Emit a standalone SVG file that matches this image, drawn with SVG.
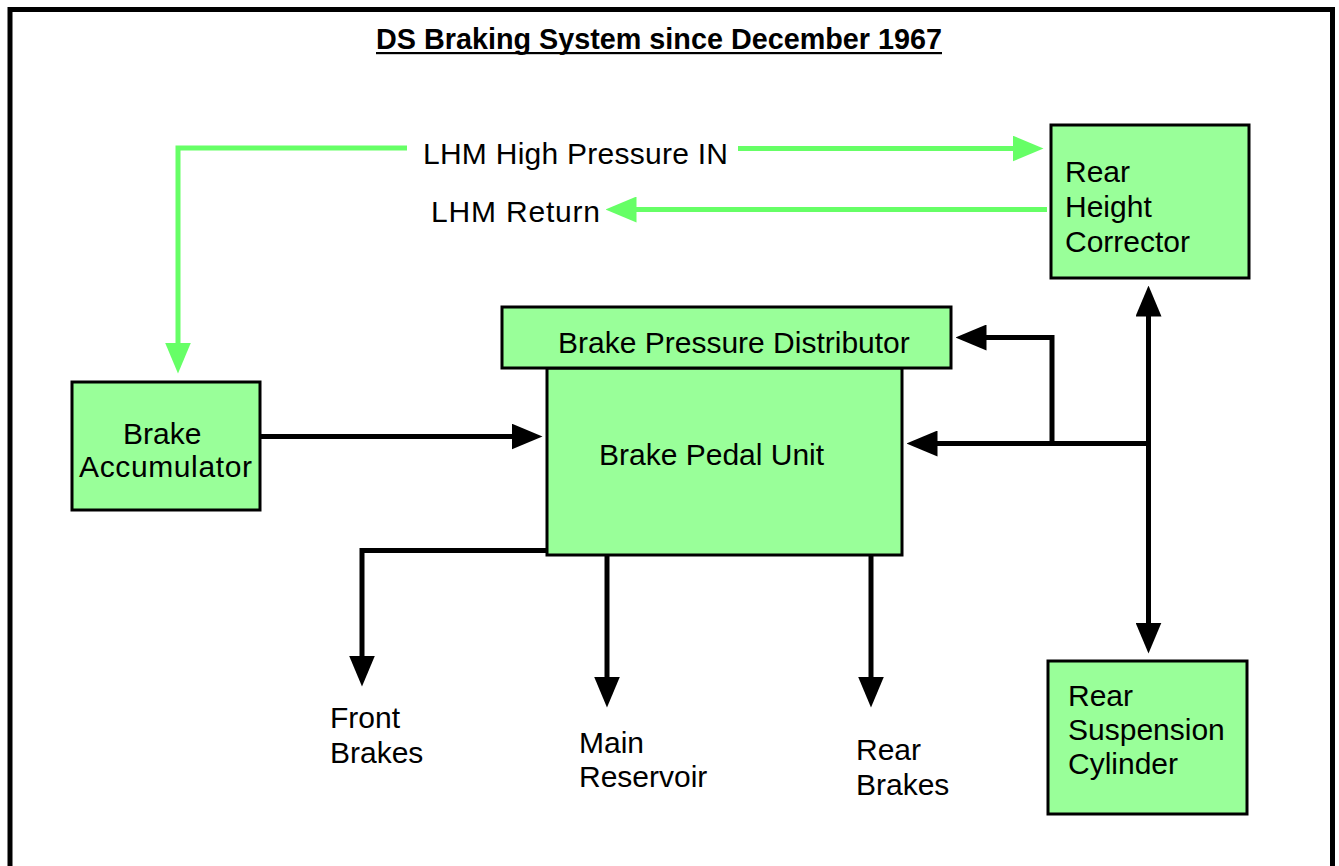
<svg xmlns="http://www.w3.org/2000/svg" width="1339" height="866" viewBox="0 0 1339 866">
  <style>
    .box { fill: #99FF99; stroke: #000; stroke-width: 3; }
    .lbl { font-family: "Liberation Sans", Arial, sans-serif; font-size: 30px; fill: #000; }
    .title { font-family: "Liberation Sans", Arial, sans-serif; font-size: 30px; font-weight: bold; fill: #000; }
    .blk { fill: none; stroke: #000; stroke-width: 5; stroke-linejoin: miter; }
    .grn { fill: none; stroke: #66FF66; stroke-width: 5; stroke-linejoin: miter; }
  </style>
  <defs>
    <marker id="ab" markerUnits="userSpaceOnUse" markerWidth="31" markerHeight="26" refX="0.5" refY="13" orient="auto-start-reverse" viewBox="0 0 31 26">
      <path d="M0,0 L31,13 L0,26 z" fill="#000"/>
    </marker>
    <marker id="ag" markerUnits="userSpaceOnUse" markerWidth="31" markerHeight="26" refX="0.5" refY="13" orient="auto" viewBox="0 0 31 26">
      <path d="M0,0 L31,13 L0,26 z" fill="#66FF66"/>
    </marker>
  </defs>
  <rect x="0" y="0" width="1339" height="866" fill="#fff"/>
  <rect id="frame" x="10" y="9.5" width="1322.5" height="900" fill="#fff" stroke="#000" stroke-width="5"/>

  <g id="title">
    <text class="title" x="376" y="48.5" textLength="566" lengthAdjust="spacingAndGlyphs">DS Braking System since December 1967</text>
    <rect x="376" y="52" width="566" height="2.2" fill="#000"/>
  </g>

  <g id="connectors">
    <path class="grn" d="M407,148 H178 V343" marker-end="url(#ag)"/>
    <path class="grn" d="M738,148.5 H1013" marker-end="url(#ag)"/>
    <path class="grn" d="M1047,209.5 H636" marker-end="url(#ag)"/>
    <path class="blk" d="M260,436.5 H512" marker-end="url(#ab)"/>
    <path class="blk" d="M1148.5,443.5 H937" marker-end="url(#ab)"/>
    <path class="blk" d="M1052,443.5 V337.5 H986" marker-end="url(#ab)"/>
    <path class="blk" d="M1148.5,316 V623" marker-start="url(#ab)" marker-end="url(#ab)"/>
    <path class="blk" d="M547,550.5 H362 V656" marker-end="url(#ab)"/>
    <path class="blk" d="M607,555 V677" marker-end="url(#ab)"/>
    <path class="blk" d="M871,555 V677" marker-end="url(#ab)"/>
  </g>

  <g id="lhm-high-pressure">
    <text class="lbl" x="423" y="164" textLength="305">LHM High Pressure IN</text>
  </g>
  <g id="lhm-return">
    <text class="lbl" x="431" y="222" textLength="169">LHM Return</text>
  </g>

  <g id="rear-height-corrector">
    <rect class="box" x="1051" y="125" width="198" height="153"/>
    <text class="lbl" x="1065" y="182">Rear</text>
    <text class="lbl" x="1065" y="217">Height</text>
    <text class="lbl" x="1065" y="252">Corrector</text>
  </g>

  <g id="brake-pedal-unit">
    <rect class="box" x="547" y="368" width="355" height="187"/>
    <text class="lbl" x="599" y="465">Brake Pedal Unit</text>
  </g>

  <g id="brake-pressure-distributor">
    <rect class="box" x="502" y="307" width="449" height="61"/>
    <text class="lbl" x="558" y="353">Brake Pressure Distributor</text>
  </g>

  <g id="brake-accumulator">
    <rect class="box" x="72" y="382" width="188" height="128"/>
    <text class="lbl" x="123" y="444">Brake</text>
    <text class="lbl" x="79" y="477" textLength="173">Accumulator</text>
  </g>

  <g id="rear-suspension-cylinder">
    <rect class="box" x="1048" y="661" width="199" height="153"/>
    <text class="lbl" x="1068" y="706">Rear</text>
    <text class="lbl" x="1068" y="740">Suspension</text>
    <text class="lbl" x="1068" y="774">Cylinder</text>
  </g>

  <g id="front-brakes">
    <text class="lbl" x="330" y="728">Front</text>
    <text class="lbl" x="330" y="763">Brakes</text>
  </g>
  <g id="main-reservoir">
    <text class="lbl" x="579" y="753">Main</text>
    <text class="lbl" x="579" y="787">Reservoir</text>
  </g>
  <g id="rear-brakes">
    <text class="lbl" x="856" y="760">Rear</text>
    <text class="lbl" x="856" y="795">Brakes</text>
  </g>
</svg>
